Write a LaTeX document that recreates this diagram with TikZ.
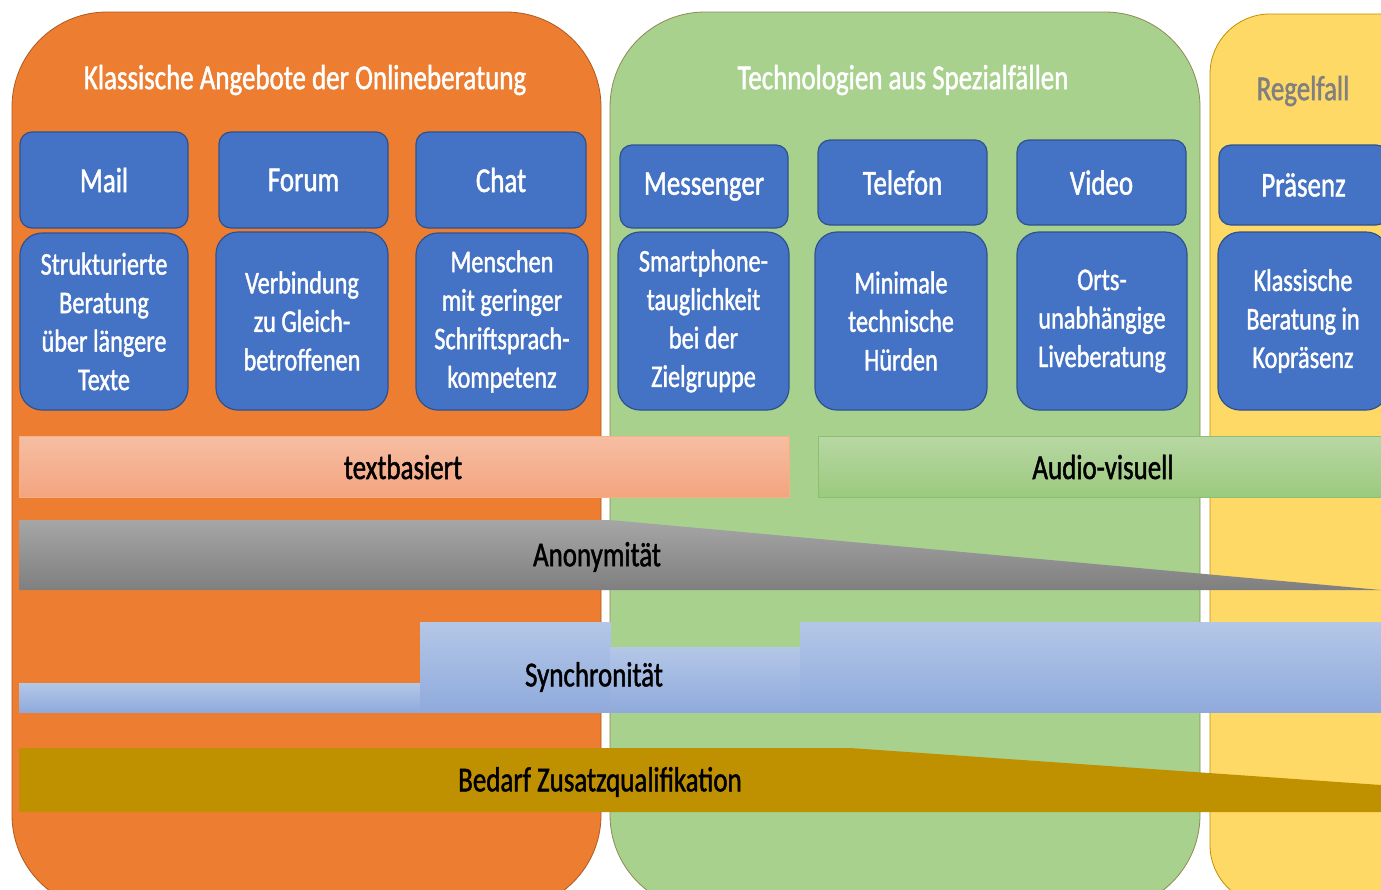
\documentclass[tikz,border=0pt]{standalone}
\usepackage{fontspec}
\setmainfont{Carlito}[FakeStretch=0.77,FakeBold=1.3]
\definecolor{orng}{HTML}{ED7D31}
\definecolor{orngb}{HTML}{AE5A21}
\definecolor{grn}{HTML}{A9D18E}
\definecolor{grnb}{HTML}{8C8A55}
\definecolor{ylw}{HTML}{FFD966}
\definecolor{ylwb}{HTML}{BF9000}
\definecolor{blu}{HTML}{4472C4}
\definecolor{blub}{HTML}{2F528F}
\definecolor{txtA}{HTML}{F6BEA3}
\definecolor{txtB}{HTML}{F4A47F}
\definecolor{txtb}{HTML}{F4B183}
\definecolor{avA}{HTML}{B8D7A4}
\definecolor{avB}{HTML}{9BCA7E}
\definecolor{avb}{HTML}{8CC070}
\definecolor{anA}{HTML}{A6A6A6}
\definecolor{anB}{HTML}{7F7F7F}
\definecolor{syA}{HTML}{B4C7E7}
\definecolor{syB}{HTML}{8FAADC}
\definecolor{bed}{HTML}{BF9000}
\definecolor{regel}{HTML}{808080}
\newcommand{\bigf}{\fontsize{35}{42}\selectfont}
\newcommand{\descf}{\fontsize{31.5}{38.5}\selectfont}
\begin{document}
\begin{tikzpicture}[x=1pt,y=1pt,
  lbl/.style={draw=blub, fill=blu, rounded corners=12pt, text=white, font=\bigf, inner sep=0pt, line width=1.2pt},
  desc/.style={draw=blub, fill=blu, rounded corners=22pt, text=white, font=\descf, align=center, inner sep=0pt, line width=1.2pt},
  sz/.style n args={2}{minimum width=#1pt, minimum height=#2pt},
  title/.style={font=\bigf, text=white},
  bartext/.style={font=\bigf, text=black}]
\useasboundingbox (0,0) rectangle (1381,-889);
\clip (0,0) rectangle (1381,-889);
\fill[white] (0,0) rectangle (1381,-889);
% panels
\draw[fill=orng, draw=orngb, line width=0.8pt, rounded corners=95pt] (12,-12) rectangle (601,-910);
\draw[fill=grn, draw=grnb, line width=0.8pt, rounded corners=95pt] (610,-12) rectangle (1200,-910);
\draw[fill=ylw, draw=ylwb, line width=0.8pt, rounded corners=60pt] (1210,-14) rectangle (1460,-905);
% titles
\node[title] (t1) at (305,-80) {Klassische Angebote der Onlineberatung};
\node[title] (t2) at (903,-80) {Technologien aus Spezialfällen};
\node[title, text=regel] (t3) at (1303,-91) {Regelfall};
% label boxes
\node[lbl, sz={168}{96}] (mail) at (104,-180) {Mail};
\node[lbl, sz={169}{96}] (forum) at (303.5,-180) {Forum};
\node[lbl, sz={170}{96}] (chat) at (501,-180) {Chat};
\node[lbl, sz={168}{83}] (messenger) at (704,-186.5) {Messenger};
\node[lbl, sz={169}{85}] (telefon) at (902.5,-182.5) {Telefon};
\node[lbl, sz={169}{85}] (video) at (1101.5,-182.5) {Video};
\node[lbl, sz={169}{80}] (praesenz) at (1303.5,-185) {Präsenz};
% description boxes
\node[desc, sz={168}{177}] (dmail) at (104,-321.5) {Strukturierte\\Beratung\\über längere\\Texte};
\node[desc, sz={172}{178}] (dforum) at (302,-321) {Verbindung\\zu Gleich-\\betroffenen};
\node[desc, sz={172}{177}] (dchat) at (502,-321.5) {Menschen\\mit geringer\\Schriftsprach-\\kompetenz};
\node[desc, sz={171}{178}] (dmessenger) at (703.5,-321) {Smartphone-\\tauglichkeit\\bei der\\Zielgruppe};
\node[desc, sz={172}{178}] (dtelefon) at (901,-321) {Minimale\\technische\\Hürden};
\node[desc, sz={170}{178}] (dvideo) at (1102,-321) {Orts-\\unabhängige\\Liveberatung};
\node[desc, sz={170}{178}] (dpraesenz) at (1303,-321) {Klassische\\Beratung in\\Kopräsenz};
% textbasiert / audio-visuell
\draw[draw=txtb, top color=txtA, bottom color=txtB, line width=0.6pt] (19,-436) rectangle (789,-497);
\node[bartext] (textb) at (403,-467) {textbasiert};
\draw[draw=avb, top color=avA, bottom color=avB, line width=0.6pt] (818,-436) rectangle (1390,-497);
\node[bartext] (audio) at (1103,-467) {Audio-visuell};
% Anonymitaet
\shade[top color=anA, bottom color=anB] (19,-520) -- (610,-520) -- (1381,-590) -- (19,-590) -- cycle;
\node[bartext] (anon) at (597,-557) {Anonymität};
% Synchronitaet
\shade[top color=syA, bottom color=syB] (19,-683) rectangle (421,-712);
\shade[top color=syA, bottom color=syB] (420,-622) rectangle (611,-712);
\shade[top color=syA, bottom color=syB] (610,-647) rectangle (801,-712);
\shade[top color=syA, bottom color=syB] (800,-622) rectangle (1381,-712);
\node[bartext] (sync) at (594,-677) {Synchronität};
% Bedarf
\fill[bed] (19,-748) -- (850,-748) -- (1381,-785) -- (1381,-812) -- (19,-812) -- cycle;
\node[bartext] (bedarf) at (600,-782) {Bedarf Zusatzqualifikation};
\end{tikzpicture}
\end{document}
